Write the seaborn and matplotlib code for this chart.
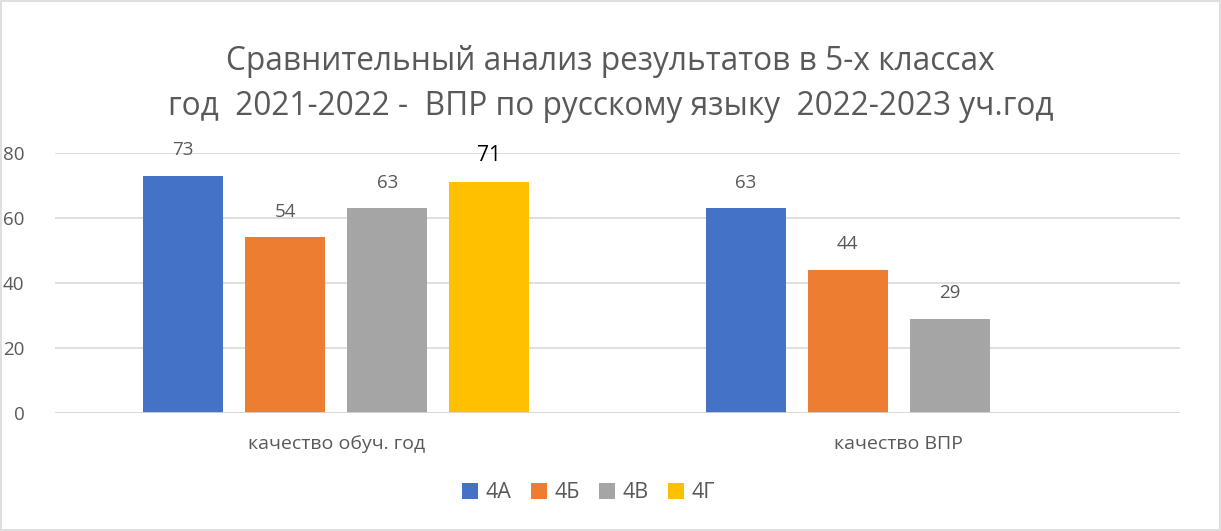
import matplotlib
matplotlib.use("Agg")
import matplotlib.pyplot as plt
import seaborn as sns
import pandas as pd
from matplotlib.patches import Rectangle

categories = ["качество обуч. год", "качество ВПР"]
classes = ["4А", "4Б", "4В", "4Г"]
values_year = [73, 54, 63, 71]
values_vpr = [63, 44, 29, None]
colors = ["#4472C4", "#ED7D31", "#A5A5A5", "#FFC000"]

rows = []
for cls, a, b in zip(classes, values_year, values_vpr):
    rows.append({"cat": categories[0], "cls": cls, "val": a})
    rows.append({"cat": categories[1], "cls": cls, "val": b})
df = pd.DataFrame(rows)

sns.set_style("white")
plt.rcParams["font.family"] = ["Open Sans", "DejaVu Sans"]
txt = "#595959"

fig = plt.figure(figsize=(12.21, 5.31), dpi=100)
ax = fig.add_axes([0.045, 0.2222, 0.9214, 0.4897])
sns.barplot(data=df, x="cat", y="val", hue="cls", order=categories,
            hue_order=classes, palette=colors, width=0.725, gap=0.215,
            saturation=1, linewidth=0, ax=ax, legend=True)

ax.set_xlim(-0.5, 1.5)
ax.set_ylim(0, 80)
ax.set_yticks([0, 20, 40, 60, 80])
ax.yaxis.grid(True, color="#D9D9D9", linewidth=1.2)
ax.set_axisbelow(True)
for s in ax.spines.values():
    s.set_visible(False)
ax.axhline(0, color="#D9D9D9", linewidth=1.2)
ax.set_xlabel("")
ax.set_ylabel("")
ax.tick_params(axis="y", length=0, labelsize=13.5, labelcolor=txt, pad=22)
ax.tick_params(axis="x", length=0, labelsize=14, labelcolor=txt, pad=16)

for i, cont in enumerate(ax.containers):
    labels = []
    for bar in cont:
        h = bar.get_height()
        labels.append("" if pd.isna(h) or h == 0 else f"{h:.0f}")
    if i == 3:
        ax.bar_label(cont, labels=labels, padding=12, fontsize=15, color="black")
    else:
        ax.bar_label(cont, labels=labels, padding=12, fontsize=13.5, color=txt)

handles, labs = ax.get_legend_handles_labels()
ax.legend_.remove()
fig.legend(handles, labs, loc="center", bbox_to_anchor=(0.482, 0.072), ncol=4,
           frameon=False, fontsize=15.5, labelcolor=txt, handlelength=0.75,
           handleheight=0.75, handletextpad=0.35, columnspacing=0.9)

fig.text(0.5, 0.885, "Сравнительный анализ результатов в 5-х классах",
         ha="center", va="center", fontsize=22.8, color=txt)
fig.text(0.5, 0.80, "год  2021-2022 -  ВПР по русскому языку  2022-2023 уч.год",
         ha="center", va="center", fontsize=22.8, color=txt)

fig.add_artist(Rectangle((0.001, 0.002), 0.998, 0.996, transform=fig.transFigure,
                         fill=False, edgecolor="#D9D9D9", linewidth=1.2))

fig.savefig("out.png", dpi=100)
